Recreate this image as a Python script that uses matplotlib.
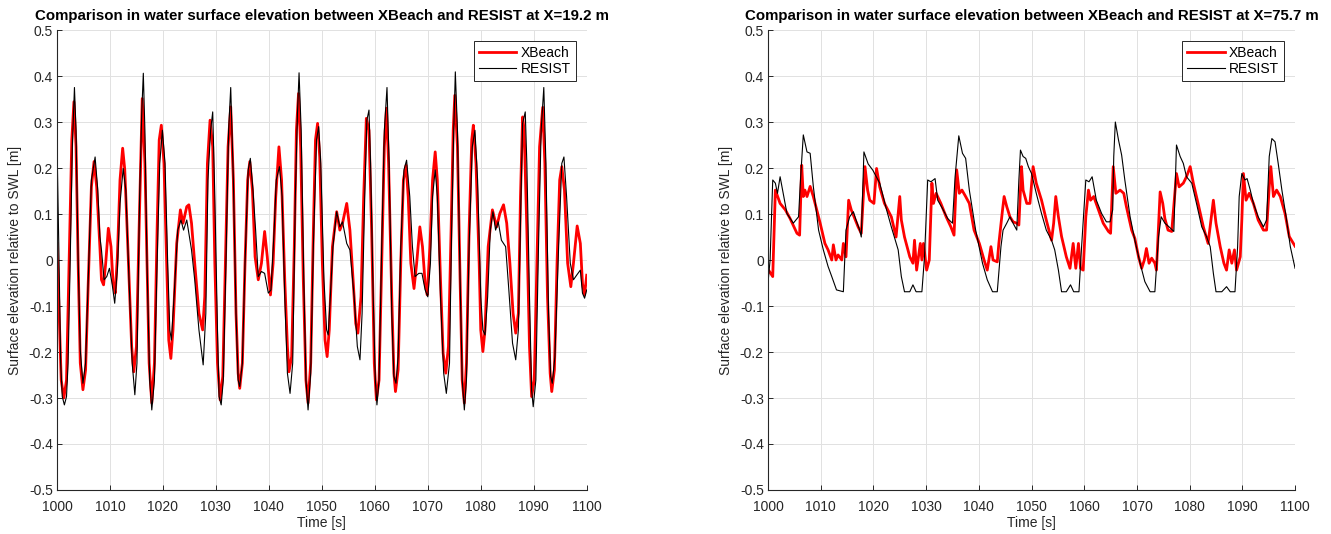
import matplotlib.pyplot as plt

plt.rcParams['font.family'] = ['Liberation Sans', 'DejaVu Sans']

# ---- left panel, X = 19.2 m ----
t_xb_1 = [1000.0, 1000.4, 1000.8, 1001.3, 1001.8, 1002.3, 1002.8, 1003.2, 1003.6, 1004.0,
          1004.4, 1004.9, 1005.4, 1005.9, 1006.5, 1007.0, 1007.5, 1008.1, 1008.4, 1008.8,
          1009.2, 1009.7, 1010.2, 1010.6, 1011.0, 1011.4, 1011.9, 1012.4, 1012.8, 1013.5,
          1014.1, 1014.5, 1015.0, 1015.5, 1016.1, 1016.6, 1017.0, 1017.4, 1017.9, 1018.4,
          1018.9, 1019.3, 1019.7, 1020.2, 1020.7, 1021.1, 1021.5, 1021.9, 1022.6, 1023.3,
          1023.8, 1024.5, 1024.9, 1025.4, 1026.0, 1026.8,
          1027.5, 1027.9, 1028.4, 1028.9, 1029.4, 1029.8, 1030.3, 1030.8, 1031.3, 1031.8,
          1032.3, 1032.8, 1033.3, 1033.8, 1034.2, 1034.5, 1035.0, 1035.5, 1036.0, 1036.4,
          1036.9, 1037.4, 1038.0, 1038.6, 1039.2, 1039.7, 1040.3, 1040.8, 1041.3, 1041.9,
          1042.4, 1043.0, 1043.5, 1043.8, 1044.3, 1044.8, 1045.2, 1045.6, 1046.0, 1046.5,
          1047.0, 1047.4, 1047.9, 1048.4, 1048.8, 1049.2, 1049.6, 1050.1, 1050.6, 1051.0,
          1051.4, 1052.0, 1052.8, 1053.4, 1053.9, 1054.7,
          1055.3, 1055.9, 1056.4, 1056.8, 1057.4, 1057.9, 1058.4, 1058.9, 1059.4, 1059.9,
          1060.3, 1060.8, 1061.3, 1061.8, 1062.2, 1062.6, 1063.2, 1063.6, 1063.9, 1064.4,
          1064.9, 1065.4, 1065.9, 1066.3, 1066.8, 1067.4, 1067.9, 1068.5, 1069.0, 1069.5,
          1069.9, 1070.4, 1070.9, 1071.4, 1071.8, 1072.4, 1072.9, 1073.4, 1073.9, 1074.4,
          1074.8, 1075.1, 1075.6, 1076.1, 1076.5, 1076.9, 1077.3, 1077.8, 1078.3, 1078.6,
          1079.1, 1079.7, 1080.0, 1080.4, 1080.8, 1081.4, 1082.2, 1083.0, 1083.6, 1084.3,
          1084.9, 1085.5, 1086.1, 1086.6, 1087.1, 1087.5, 1087.9, 1088.2, 1088.7, 1089.2,
          1089.6, 1090.1, 1090.6, 1091.1, 1091.7, 1092.1, 1092.6, 1093.1, 1093.4, 1093.9,
          1094.4, 1094.9, 1095.3, 1095.8, 1096.4, 1097.0, 1097.5, 1098.2, 1098.8, 1099.2,
          1099.6, 1100.0]
eta_xb_1 = [0.036, -0.116, -0.261, -0.300, -0.261, 0.000, 0.261, 0.344, 0.246, -0.007,
            -0.224, -0.282, -0.239, -0.051, 0.159, 0.214, 0.159, 0.029, -0.043, -0.054,
            -0.007, 0.069, 0.029, -0.051, -0.072, 0.007, 0.174, 0.243, 0.196, -0.007,
            -0.188, -0.243, -0.188, 0.065, 0.351, 0.210, -0.007, -0.224, -0.311, -0.224,
            0.065, 0.261, 0.293, 0.210, -0.007, -0.174, -0.214, -0.152, 0.036, 0.109,
            0.080, 0.116, 0.120, 0.080, -0.007, -0.116,
            -0.152, -0.080, 0.210, 0.304, 0.246, -0.007, -0.224, -0.304, -0.253, -0.007,
            0.246, 0.333, 0.174, -0.116, -0.246, -0.279, -0.224, -0.007, 0.174, 0.214,
            0.152, 0.007, -0.043, -0.007, 0.062, 0.007, -0.076, -0.007, 0.138, 0.246,
            0.174, -0.043, -0.188, -0.243, -0.210, 0.029, 0.282, 0.362, 0.246, -0.043,
            -0.261, -0.311, -0.224, 0.065, 0.261, 0.297, 0.224, -0.007, -0.174, -0.210,
            -0.152, 0.029, 0.105, 0.065, 0.080, 0.123,
            0.065, -0.043, -0.138, -0.159, -0.080, 0.138, 0.308, 0.282, 0.065, -0.224,
            -0.304, -0.261, -0.007, 0.246, 0.330, 0.210, -0.080, -0.246, -0.286, -0.239,
            -0.007, 0.174, 0.206, 0.138, -0.007, -0.062, -0.007, 0.072, 0.029, -0.051,
            -0.076, 0.029, 0.174, 0.235, 0.174, -0.043, -0.203, -0.246, -0.188, 0.065,
            0.282, 0.358, 0.246, -0.043, -0.261, -0.311, -0.224, 0.065, 0.261, 0.293,
            0.210, -0.007, -0.152, -0.199, -0.152, 0.029, 0.109, 0.072, 0.101, 0.120,
            0.080, -0.007, -0.116, -0.159, -0.116, 0.138, 0.311, 0.282, 0.065, -0.188,
            -0.297, -0.261, -0.007, 0.246, 0.332, 0.210, -0.080, -0.246, -0.286, -0.239,
            -0.007, 0.174, 0.203, 0.152, -0.007, -0.058, -0.007, 0.074, 0.036, -0.051,
            -0.076, -0.033]
t_res_1 = [1000.0, 1000.4, 1000.7, 1001.0, 1001.4, 1001.8, 1002.1, 1002.5, 1002.9, 1003.3,
           1003.6, 1004.0, 1004.4, 1004.9, 1005.4, 1005.9, 1006.5, 1007.2, 1007.7, 1008.1,
           1008.4, 1008.9, 1009.4, 1009.9, 1010.4, 1010.9, 1011.4, 1011.9, 1012.5, 1013.0,
           1013.6, 1014.2, 1014.7, 1015.1, 1015.6, 1016.0, 1016.3, 1016.6, 1017.0, 1017.5,
           1017.9, 1018.4, 1018.9, 1019.4, 1019.9, 1020.4, 1020.9, 1021.3, 1021.6, 1022.1,
           1022.8, 1023.4, 1023.9, 1024.5, 1025.0, 1025.4, 1026.0, 1026.8,
           1027.6, 1028.1, 1028.5, 1029.0, 1029.4, 1029.8, 1030.3, 1030.6, 1031.0, 1031.4,
           1031.9, 1032.4, 1032.8, 1033.3, 1033.8, 1034.2, 1034.5, 1035.0, 1035.5, 1036.1,
           1036.5, 1037.0, 1037.5, 1038.0, 1038.6, 1039.2, 1039.9, 1040.4, 1041.0, 1041.4,
           1042.0, 1042.5, 1043.0, 1043.5, 1044.0, 1044.5, 1045.0, 1045.4, 1045.7, 1046.1,
           1046.6, 1047.0, 1047.4, 1047.9, 1048.4, 1049.0, 1049.4, 1049.8, 1050.4, 1050.9,
           1051.2, 1051.6, 1052.1, 1052.8, 1053.4, 1053.9, 1054.7, 1055.3,
           1056.1, 1056.7, 1057.2, 1057.6, 1058.1, 1058.5, 1058.9, 1059.2, 1059.7, 1060.1,
           1060.4, 1060.8, 1061.3, 1061.8, 1062.3, 1062.7, 1063.2, 1063.6, 1064.0, 1064.4,
           1064.9, 1065.5, 1066.0, 1066.6, 1067.1, 1067.6, 1068.3, 1068.9, 1069.5, 1070.0,
           1070.5, 1070.9, 1071.4, 1071.8, 1072.4, 1073.0, 1073.5, 1074.1, 1074.5, 1074.9,
           1075.2, 1075.6, 1076.1, 1076.5, 1076.9, 1077.3, 1077.8, 1078.4, 1078.9, 1079.4,
           1080.0, 1080.4, 1080.8, 1081.3, 1081.8, 1082.3, 1082.8, 1083.3, 1083.9, 1084.7,
           1085.3, 1086.0, 1086.6, 1087.1, 1087.6, 1087.9, 1088.4, 1088.7, 1089.2, 1089.6,
           1089.9, 1090.4, 1090.9, 1091.4, 1091.9, 1092.3, 1092.8, 1093.2, 1093.5, 1094.0,
           1094.7, 1095.3, 1095.7, 1096.2, 1096.9, 1097.5, 1098.1, 1098.8, 1099.2, 1099.6,
           1100.0]
eta_res_1 = [0.260, -0.007, -0.224, -0.297, -0.315, -0.297, -0.224, 0.000, 0.246, 0.375,
             0.282, 0.000, -0.196, -0.268, -0.224, -0.043, 0.174, 0.224, 0.152, 0.051,
             0.022, -0.043, -0.036, -0.018, -0.051, -0.094, -0.022, 0.123, 0.199, 0.152,
             -0.043, -0.224, -0.293, -0.224, 0.138, 0.319, 0.406, 0.282, -0.007, -0.261,
             -0.326, -0.261, -0.007, 0.210, 0.282, 0.210, -0.007, -0.152, -0.174, -0.080,
             0.065, 0.087, 0.065, 0.087, 0.051, 0.022, -0.043, -0.152,
             -0.228, -0.116, 0.174, 0.282, 0.322, 0.138, -0.152, -0.297, -0.315, -0.261,
             -0.007, 0.282, 0.375, 0.174, -0.116, -0.261, -0.275, -0.224, -0.007, 0.196,
             0.221, 0.152, 0.065, -0.036, -0.025, -0.029, -0.072, -0.065, 0.065, 0.174,
             0.203, 0.138, -0.080, -0.246, -0.290, -0.224, 0.138, 0.319, 0.407, 0.282,
             -0.043, -0.261, -0.326, -0.246, 0.029, 0.261, 0.290, 0.210, -0.043, -0.152,
             -0.163, -0.080, 0.029, 0.105, 0.072, 0.083, 0.036, 0.022,
             -0.080, -0.188, -0.217, -0.116, 0.138, 0.304, 0.326, 0.210, -0.080, -0.261,
             -0.315, -0.261, 0.029, 0.282, 0.375, 0.210, -0.116, -0.253, -0.268, -0.210,
             0.029, 0.196, 0.217, 0.138, 0.029, -0.036, -0.029, -0.029, -0.065, -0.080,
             -0.007, 0.138, 0.196, 0.138, -0.080, -0.246, -0.290, -0.224, 0.065, 0.282,
             0.409, 0.282, -0.043, -0.261, -0.326, -0.261, 0.029, 0.246, 0.282, 0.174,
             -0.080, -0.152, -0.163, -0.080, 0.065, 0.105, 0.065, 0.083, 0.043, 0.029,
             -0.065, -0.181, -0.217, -0.152, 0.138, 0.297, 0.322, 0.210, -0.080, -0.282,
             -0.319, -0.261, 0.029, 0.282, 0.375, 0.210, -0.116, -0.253, -0.268, -0.210,
             0.029, 0.210, 0.224, 0.138, -0.007, -0.043, -0.033, -0.022, -0.072, -0.083,
             -0.065]

# ---- right panel, X = 75.7 m ----
t_xb_2 = [1000.0, 1000.9, 1001.4, 1002.3, 1003.3, 1004.2, 1005.5, 1006.0, 1006.4, 1006.7,
          1007.0, 1007.4, 1008.0, 1008.6, 1009.9, 1010.8, 1011.4, 1012.1, 1012.4, 1012.9,
          1013.3, 1014.0, 1014.3, 1014.8, 1015.3, 1015.8, 1017.1, 1017.7, 1018.4, 1018.9,
          1019.3, 1020.1, 1020.6, 1021.2, 1022.1, 1023.4, 1024.3, 1025.0, 1025.3, 1025.9,
          1026.9, 1027.5, 1027.8, 1028.2, 1028.9, 1029.2, 1029.5, 1030.1, 1030.6, 1031.1,
          1031.4, 1031.9, 1032.8, 1033.8, 1034.7, 1035.3, 1035.8, 1036.3, 1036.8, 1037.5,
          1038.2, 1039.1, 1040.1, 1041.0, 1041.6, 1042.3, 1042.7, 1043.5, 1043.8, 1044.5,
          1044.8, 1045.3, 1045.9, 1046.5, 1047.2, 1047.6, 1048.1, 1048.4, 1049.1, 1049.7,
          1050.3, 1050.9, 1051.9, 1052.8, 1053.8, 1054.2, 1054.6, 1055.1, 1055.7, 1056.6,
          1057.3, 1057.9, 1058.4, 1058.9, 1059.3, 1059.8, 1060.3, 1060.8, 1061.2, 1061.8,
          1062.7, 1063.6, 1064.6, 1065.0, 1065.5, 1066.0, 1066.8, 1067.5, 1068.0, 1069.0,
          1069.6, 1070.3, 1070.9, 1071.4, 1071.8, 1072.3, 1072.8, 1073.4, 1073.7, 1074.4,
          1074.9, 1075.3, 1075.9, 1076.6, 1077.5, 1078.0, 1078.8, 1079.4, 1080.1, 1080.7,
          1081.6, 1082.6, 1083.5, 1084.5, 1085.0, 1085.8, 1086.5, 1087.0, 1087.5, 1088.0,
          1088.5, 1088.9, 1089.6, 1089.9, 1090.2, 1090.7, 1091.3, 1092.1, 1093.0, 1094.0,
          1094.6, 1095.1, 1095.4, 1095.9, 1096.5, 1097.2, 1098.1, 1098.9, 1099.7, 1100.0]
eta_xb_2 = [-0.020, -0.036, 0.152, 0.123, 0.109, 0.090, 0.058, 0.054, 0.206, 0.138,
            0.152, 0.138, 0.160, 0.138, 0.080, 0.036, 0.022, 0.000, 0.033, 0.000,
            0.011, 0.000, 0.036, 0.007, 0.130, 0.109, 0.072, 0.058, 0.203, 0.152,
            0.130, 0.123, 0.199, 0.159, 0.123, 0.094, 0.050, 0.138, 0.087, 0.050,
            0.007, -0.007, 0.043, -0.022, 0.036, 0.000, 0.036, -0.022, 0.000, 0.167,
            0.123, 0.145, 0.123, 0.094, 0.072, 0.054, 0.196, 0.145, 0.152, 0.138,
            0.123, 0.065, 0.036, 0.000, -0.022, 0.029, 0.000, -0.004, 0.036, 0.109,
            0.138, 0.116, 0.094, 0.083, 0.080, 0.076, 0.203, 0.152, 0.123, 0.123,
            0.203, 0.167, 0.130, 0.087, 0.043, 0.080, 0.138, 0.094, 0.051, 0.007,
            -0.018, 0.036, -0.018, 0.036, -0.018, -0.022, 0.094, 0.152, 0.130, 0.138,
            0.109, 0.080, 0.062, 0.058, 0.203, 0.145, 0.152, 0.145, 0.116, 0.065,
            0.047, 0.007, -0.018, 0.000, 0.025, -0.007, 0.004, -0.007, -0.022, 0.148,
            0.123, 0.090, 0.065, 0.062, 0.188, 0.159, 0.167, 0.181, 0.203, 0.167,
            0.123, 0.072, 0.036, 0.130, 0.080, 0.029, -0.007, -0.022, 0.022, -0.007,
            0.022, -0.022, 0.007, 0.087, 0.188, 0.130, 0.145, 0.123, 0.087, 0.065,
            0.065, 0.159, 0.203, 0.138, 0.152, 0.138, 0.101, 0.051, 0.036, 0.030]
t_res_2 = [1000.0, 1000.4, 1000.9, 1001.4, 1001.8, 1002.3, 1003.0, 1003.6, 1004.8, 1005.8,
           1006.2, 1006.7, 1007.4, 1008.0, 1008.6, 1009.6, 1010.5, 1011.4, 1012.1, 1013.0,
           1014.3, 1014.8, 1015.5, 1016.2, 1016.7, 1017.4, 1017.7, 1018.2, 1019.0, 1019.9,
           1021.2, 1022.5, 1023.4, 1024.7, 1025.3, 1025.9, 1026.9, 1027.5, 1028.1, 1029.2,
           1029.7, 1030.3, 1030.9, 1031.7, 1032.2, 1033.1, 1034.1, 1035.0, 1035.5, 1036.2,
           1036.9, 1037.5, 1038.2, 1039.4, 1040.7, 1041.6, 1042.6, 1043.5, 1044.2, 1044.6,
           1045.3, 1045.9, 1046.5, 1047.2, 1047.6, 1047.9, 1048.4, 1048.9, 1049.4, 1050.0,
           1050.9, 1051.9, 1052.8, 1053.8, 1054.4, 1055.1, 1055.7, 1056.6, 1057.4, 1058.0,
           1059.0, 1059.5, 1060.3, 1060.9, 1061.5, 1062.3, 1063.3, 1064.2, 1064.9, 1065.4,
           1065.6, 1065.9, 1066.5, 1067.1, 1067.7, 1068.7, 1069.6, 1070.6, 1071.5, 1072.5,
           1073.4, 1074.1, 1074.6, 1075.3, 1076.1, 1077.0, 1077.5, 1078.2, 1078.8, 1079.4,
           1080.4, 1081.3, 1082.3, 1083.2, 1083.9, 1084.5, 1085.0, 1086.1, 1087.0, 1087.7,
           1088.6, 1089.1, 1089.4, 1089.9, 1090.5, 1090.9, 1091.5, 1092.1, 1093.0, 1094.0,
           1094.6, 1095.1, 1095.6, 1096.2, 1096.8, 1097.5, 1098.3, 1099.1, 1100.0]
eta_res_2 = [-0.050, 0.000, 0.174, 0.167, 0.145, 0.181, 0.138, 0.101, 0.080, 0.094,
             0.181, 0.272, 0.235, 0.232, 0.160, 0.065, 0.022, -0.014, -0.036, -0.065,
             -0.069, 0.065, 0.094, 0.105, 0.087, 0.065, 0.050, 0.235, 0.209, 0.195,
             0.167, 0.109, 0.072, 0.022, -0.036, -0.069, -0.069, -0.054, -0.069, -0.069,
             0.007, 0.174, 0.170, 0.177, 0.130, 0.112, 0.090, 0.080, 0.181, 0.270,
             0.232, 0.221, 0.152, 0.065, -0.007, -0.043, -0.069, -0.069, 0.029, 0.065,
             0.080, 0.094, 0.080, 0.065, 0.174, 0.239, 0.225, 0.221, 0.203, 0.188,
             0.145, 0.101, 0.065, 0.043, 0.022, -0.022, -0.069, -0.069, -0.054, -0.069,
             -0.069, 0.029, 0.174, 0.170, 0.181, 0.130, 0.101, 0.083, 0.083, 0.109,
             0.225, 0.300, 0.261, 0.228, 0.174, 0.094, 0.043, -0.007, -0.047, -0.069,
             -0.069, 0.051, 0.094, 0.080, 0.072, 0.062, 0.250, 0.225, 0.210, 0.181,
             0.167, 0.123, 0.072, 0.051, 0.029, -0.029, -0.069, -0.069, -0.058, -0.069,
             -0.069, 0.029, 0.138, 0.188, 0.174, 0.177, 0.152, 0.123, 0.094, 0.072,
             0.087, 0.225, 0.264, 0.257, 0.210, 0.152, 0.094, 0.029, -0.018]

x_ticks = list(range(1000, 1101, 10))
y_ticks = [-0.5, -0.4, -0.3, -0.2, -0.1, 0, 0.1, 0.2, 0.3, 0.4, 0.5]
y_tick_labels = ['-0.5', '-0.4', '-0.3', '-0.2', '-0.1', '0', '0.1', '0.2', '0.3', '0.4', '0.5']
titles = ['Comparison in water surface elevation between XBeach and RESIST at X=19.2 m',
          'Comparison in water surface elevation between XBeach and RESIST at X=75.7 m']

dark = '#262626'

fig = plt.figure(figsize=(13.31, 5.34), dpi=100)
ax1 = fig.add_axes([0.0428, 0.0824, 0.398, 0.8614])
ax2 = fig.add_axes([0.577, 0.0824, 0.396, 0.8614])

panels = [(ax1, t_xb_1, eta_xb_1, t_res_1, eta_res_1, titles[0]),
          (ax2, t_xb_2, eta_xb_2, t_res_2, eta_res_2, titles[1])]

for ax, txb, exb, tres, eres, title in panels:
    ax.plot(txb, exb, color='#ff0000', lw=2.0, label='XBeach', solid_joinstyle='round')
    ax.plot(tres, eres, color='black', lw=0.8, label='RESIST')
    ax.set_xlim(1000, 1100)
    ax.set_ylim(-0.5, 0.5)
    ax.set_xticks(x_ticks)
    ax.set_yticks(y_ticks)
    ax.set_yticklabels(y_tick_labels)
    ax.grid(True, color='#e1e1e1', lw=0.7)
    ax.set_axisbelow(True)
    for side in ['top', 'right']:
        ax.spines[side].set_visible(False)
    for side in ['left', 'bottom']:
        ax.spines[side].set_color(dark)
        ax.spines[side].set_linewidth(0.8)
    ax.tick_params(direction='in', length=3.5, width=0.7, color=dark,
                   labelcolor=dark, labelsize=10)
    ax.tick_params(axis='x', pad=7)
    ax.tick_params(axis='y', pad=3)
    ax.set_xlabel('Time [s]', fontsize=10, color=dark, labelpad=2)
    ax.set_ylabel('Surface elevation relative to SWL [m]', fontsize=10, color=dark, labelpad=5)
    ax.set_title(title, fontsize=10.8, fontweight='bold', pad=7)
    leg = ax.legend(loc='upper right', fontsize=10, frameon=True, fancybox=False,
                    framealpha=1, edgecolor=dark, borderaxespad=0.8,
                    handlelength=2.7, handletextpad=0.3, borderpad=0.35,
                    labelspacing=0.15)
    leg.get_frame().set_linewidth(0.7)

fig.savefig('out.png', dpi=100)
